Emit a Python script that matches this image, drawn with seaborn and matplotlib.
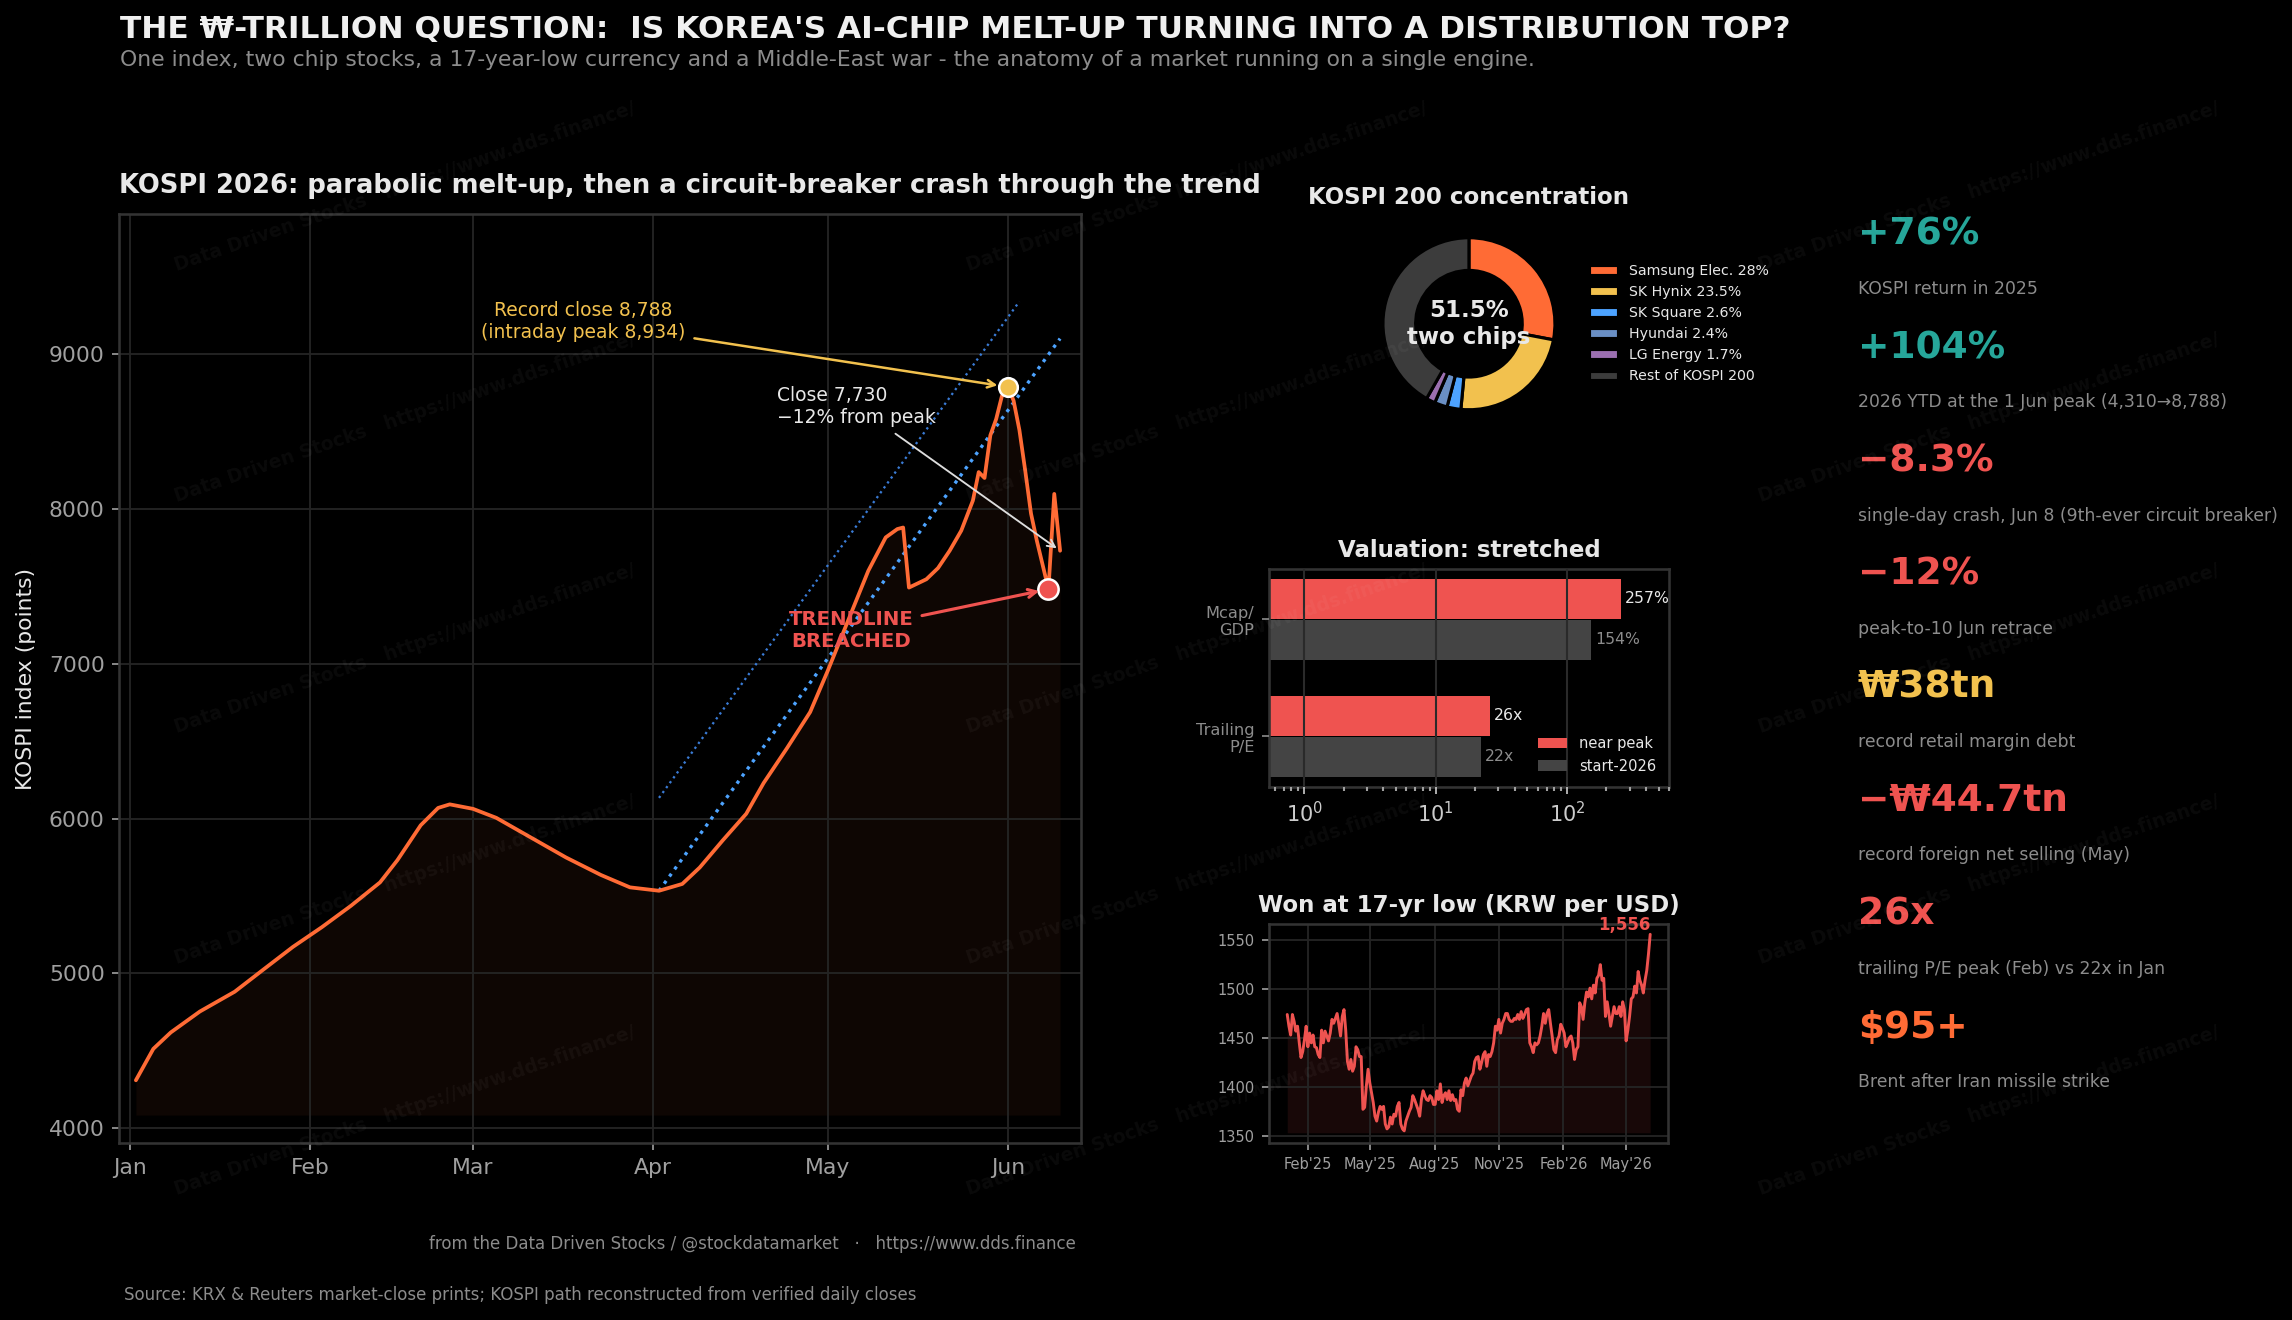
import numpy as np
import pandas as pd
import seaborn as sns
import matplotlib.pyplot as plt
import matplotlib.dates as mdates

sns.set_theme(style="dark", rc={"figure.facecolor": "black", "axes.facecolor": "black",
                                "savefig.facecolor": "black", "axes.edgecolor": "#333333",
                                "axes.axisbelow": "line"})
plt.rcParams["font.family"] = ["DejaVu Sans"]

BG = "#000000"
ORANGE = "#ff6b35"
GOLD = "#f2c14e"
RED = "#ef5350"
TEAL = "#26a69a"
BLUE = "#4da3ff"
LIGHT = "#e8e8e8"
GRAY = "#8c8c8c"
TICK = "#a0a0a0"
GRID = "#242424"
SPINE = "#333333"
DARK = "#444444"

# ---- data: KOSPI 2026 daily closes
kospi_dates = ["2026-01-02", "2026-01-05", "2026-01-08", "2026-01-13", "2026-01-19", "2026-01-24",
               "2026-01-29", "2026-02-03", "2026-02-08", "2026-02-13", "2026-02-16", "2026-02-20",
               "2026-02-23", "2026-02-25", "2026-03-01", "2026-03-05", "2026-03-11", "2026-03-17",
               "2026-03-23", "2026-03-28", "2026-04-02", "2026-04-06", "2026-04-09", "2026-04-13",
               "2026-04-17", "2026-04-20", "2026-04-24", "2026-04-28", "2026-05-01", "2026-05-04",
               "2026-05-08", "2026-05-11", "2026-05-13", "2026-05-14", "2026-05-15", "2026-05-18",
               "2026-05-20", "2026-05-22", "2026-05-24", "2026-05-26", "2026-05-27", "2026-05-28",
               "2026-05-29", "2026-05-30", "2026-05-31", "2026-06-01", "2026-06-02", "2026-06-03",
               "2026-06-04", "2026-06-05", "2026-06-06", "2026-06-08", "2026-06-09", "2026-06-10"]
kospi_close = [4310, 4513, 4619, 4754, 4882, 5027, 5171, 5299, 5437, 5588, 5732, 5957,
               6069, 6092, 6063, 6005, 5877, 5749, 5636, 5556, 5534, 5578, 5684, 5861,
               6031, 6230, 6454, 6688, 6952, 7230, 7600, 7816, 7870, 7880, 7492, 7546,
               7618, 7730, 7860, 8054, 8238, 8200, 8475, 8580, 8730, 8788, 8700, 8510,
               8248, 7970, 7795, 7482, 8097, 7730]
kospi_fill_floor = 4085
peak_date, peak_close = "2026-06-01", 8788
breach_date, breach_close = "2026-06-08", 7482

# trendline from the April low and the parallel upper channel
trend_dates = ["2026-04-02", "2026-06-10"]
trend_lower = [5534, 9100]
channel_dates = ["2026-04-02", "2026-06-03"]
channel_upper = [6134, 9340]

# ---- donut
holding_labels = ["Samsung Elec. 28%", "SK Hynix 23.5%", "SK Square 2.6%", "Hyundai 2.4%",
                  "LG Energy 1.7%", "Rest of KOSPI 200"]
holding_share = [28, 23.5, 2.6, 2.4, 1.7, 41.8]
holding_colors = [ORANGE, GOLD, BLUE, "#6a8fc4", "#9b6fb0", "#3c3c3c"]

# ---- valuation
val_metric = ["Mcap/\nGDP", "Mcap/\nGDP", "Trailing\nP/E", "Trailing\nP/E"]
val_period = ["near peak", "start-2026", "near peak", "start-2026"]
val_value = [257, 154, 26, 22]
val_text_peak = ["257%", "26x"]
val_text_start = ["154%", "22x"]

# ---- KRW per USD
won_start, won_end = "2025-01-02", "2026-06-05"
won_rate = [1474, 1462, 1453, 1474, 1467, 1457, 1462, 1445, 1430, 1436, 1448, 1462, 1441, 1455,
            1445, 1453, 1441, 1440, 1433, 1430, 1458, 1445, 1457, 1452, 1447, 1455, 1469, 1465,
            1470, 1475, 1464, 1452, 1472, 1479, 1458, 1426, 1418, 1428, 1416, 1421, 1441, 1438,
            1431, 1431, 1377, 1379, 1401, 1418, 1404, 1394, 1384, 1370, 1365, 1374, 1380, 1377,
            1380, 1362, 1357, 1359, 1369, 1362, 1372, 1370, 1380, 1384, 1362, 1357, 1355, 1365,
            1370, 1375, 1379, 1391, 1387, 1382, 1377, 1370, 1387, 1396, 1391, 1387, 1386, 1391,
            1389, 1382, 1382, 1396, 1387, 1403, 1384, 1391, 1394, 1387, 1396, 1386, 1392, 1386,
            1387, 1377, 1375, 1397, 1391, 1404, 1409, 1401, 1406, 1411, 1414, 1426, 1430, 1431,
            1418, 1425, 1433, 1436, 1421, 1433, 1431, 1436, 1445, 1462, 1458, 1469, 1455, 1465,
            1469, 1475, 1475, 1469, 1467, 1467, 1470, 1469, 1474, 1469, 1477, 1470, 1474, 1479,
            1480, 1445, 1441, 1435, 1445, 1443, 1445, 1452, 1462, 1475, 1465, 1475, 1479, 1465,
            1452, 1438, 1435, 1448, 1452, 1464, 1460, 1455, 1441, 1445, 1450, 1452, 1445, 1428,
            1438, 1441, 1486, 1482, 1469, 1486, 1497, 1492, 1501, 1490, 1504, 1496, 1511, 1514,
            1525, 1509, 1511, 1472, 1487, 1475, 1462, 1472, 1482, 1475, 1475, 1482, 1472, 1487,
            1479, 1447, 1458, 1472, 1490, 1492, 1503, 1496, 1518, 1509, 1504, 1496, 1509, 1519,
            1536, 1556]
won_fill_floor = 1353

# ---- key stats column
stat_values = ["+76%", "+104%", "\u22128.3%", "\u221212%", "\u20a938tn", "\u2212\u20a944.7tn", "26x", "$95+"]
stat_colors = [TEAL, TEAL, RED, RED, GOLD, RED, RED, ORANGE]
stat_labels = ["KOSPI return in 2025",
               "2026 YTD at the 1 Jun peak (4,310\u21928,788)",
               "single-day crash, Jun 8 (9th-ever circuit breaker)",
               "peak-to-10 Jun retrace",
               "record retail margin debt",
               "record foreign net selling (May)",
               "trailing P/E peak (Feb) vs 22x in Jan",
               "Brent after Iran missile strike"]


def style_axes(a, labelsize):
    a.set_facecolor(BG)
    for s in a.spines.values():
        s.set_color(SPINE)
        s.set_visible(True)
    a.tick_params(colors=TICK, labelsize=labelsize, length=3.5, width=0.8, left=True, bottom=True)
    a.set_xlabel("")
    a.set_ylabel("")


fig = plt.figure(figsize=(15.28, 8.8), dpi=150)

# ================= main KOSPI chart
ax = fig.add_axes([0.0521, 0.1341, 0.4195, 0.7038])
kospi = pd.DataFrame({"date": pd.to_datetime(kospi_dates), "close": kospi_close})
sns.lineplot(data=kospi, x="date", y="close", ax=ax, color=ORANGE, lw=1.8, zorder=4)
ax.fill_between(kospi["date"], kospi["close"], kospi_fill_floor, color=ORANGE, alpha=0.06, lw=0, zorder=1)
ax.plot(pd.to_datetime(channel_dates), channel_upper, ls=":", color="#3a7bd5", lw=1.1, zorder=3)
ax.plot(pd.to_datetime(trend_dates), trend_lower, ls=":", color=BLUE, lw=1.6, zorder=3)
ax.scatter([pd.Timestamp(peak_date)], [peak_close], s=80, color=GOLD, edgecolor="white", lw=1.2, zorder=6)
ax.scatter([pd.Timestamp(breach_date)], [breach_close], s=95, color=RED, edgecolor="white", lw=1.2, zorder=6)

ax.annotate("Record close 8,788\n(intraday peak 8,934)", xy=(pd.Timestamp(peak_date), peak_close),
            xytext=(pd.Timestamp("2026-03-20"), 9213), ha="center", va="center", color=GOLD, fontsize=9,
            arrowprops=dict(arrowstyle="->", color=GOLD, lw=1.2, shrinkB=5), zorder=7)
ax.annotate("Close 7,730\n\u221212% from peak", xy=(kospi["date"].iloc[-1], kospi["close"].iloc[-1]),
            xytext=(pd.Timestamp("2026-04-22 08:00"), 8664), ha="left", va="center", color=LIGHT, fontsize=9,
            arrowprops=dict(arrowstyle="->", color="#dddddd", lw=0.9), zorder=7)
ax.annotate("TRENDLINE\nBREACHED", xy=(pd.Timestamp(breach_date), breach_close),
            xytext=(pd.Timestamp("2026-05-05"), 7215), ha="center", va="center", color=RED, fontsize=9.5,
            fontweight="bold", arrowprops=dict(arrowstyle="->", color=RED, lw=1.5, shrinkB=4.5), zorder=7)

ax.set_xlim(pd.Timestamp("2025-12-30 04:00"), pd.Timestamp("2026-06-13 14:00"))
ax.set_ylim(3905, 9905)
ax.set_yticks([4000, 5000, 6000, 7000, 8000, 9000])
ax.xaxis.set_major_locator(mdates.MonthLocator())
ax.xaxis.set_major_formatter(mdates.DateFormatter("%b"))
style_axes(ax, 10.5)
ax.grid(True, color=GRID, lw=0.9)
ax.set_ylabel("KOSPI index (points)", color=LIGHT, fontsize=10.5, labelpad=6)
ax.set_title("KOSPI 2026: parabolic melt-up, then a circuit-breaker crash through the trend",
             loc="left", fontsize=12.4, fontweight="bold", color=LIGHT, pad=10)

# ================= donut
axd = fig.add_axes([0.594, 0.6733, 0.0938, 0.1629])
wedges, _ = axd.pie(holding_share, colors=holding_colors, startangle=90, counterclock=False,
                    wedgeprops=dict(width=0.38, edgecolor=BG, linewidth=1.5))
axd.text(0, 0, "51.5%\ntwo chips", ha="center", va="center", fontsize=11, fontweight="bold", color=LIGHT)
axd.set_title("KOSPI 200 concentration", fontsize=11, fontweight="bold", color=LIGHT)
axd.legend(wedges, holding_labels, loc="center left", bbox_to_anchor=(1.0, 0.5), fontsize=6.8,
           frameon=False, labelcolor=LIGHT)

# ================= valuation bars
axv = fig.add_axes([0.5537, 0.404, 0.1745, 0.1649])
val = pd.DataFrame({"metric": val_metric, "period": val_period, "value": val_value})
sns.barplot(data=val, y="metric", x="value", hue="period", palette=[RED, DARK], orient="h",
            width=0.7, gap=0.04, saturation=1, linewidth=0, ax=axv)
axv.set_xscale("log")
axv.set_xlim(0.54, 600)
axv.set_ylim(1.43, -0.43)
axv.bar_label(axv.containers[0], labels=val_text_peak, padding=2, color=LIGHT, fontsize=7.5)
axv.bar_label(axv.containers[1], labels=val_text_start, padding=2, color=GRAY, fontsize=7.5)
style_axes(axv, 10)
axv.tick_params(axis="y", labelsize=7.8, colors=GRAY)
axv.tick_params(axis="x", colors="#cccccc")
axv.tick_params(axis="x", which="minor", colors=TICK, length=2, bottom=True)
axv.set_axisbelow(False)
axv.grid(True, axis="x", which="major", color="#2a2a2a", lw=1)
axv.legend(loc="lower right", fontsize=7, frameon=False, labelcolor=LIGHT)
axv.set_title("Valuation: stretched", fontsize=11, fontweight="bold", color=LIGHT)

# ================= won
axw = fig.add_axes([0.5537, 0.1343, 0.1742, 0.1654])
won = pd.DataFrame({"date": pd.date_range(won_start, won_end, periods=len(won_rate)), "rate": won_rate})
sns.lineplot(data=won, x="date", y="rate", ax=axw, color=RED, lw=1.4, zorder=4)
axw.fill_between(won["date"], won["rate"], won_fill_floor, color=RED, alpha=0.1, lw=0, zorder=1)
axw.text(won["date"].iloc[-1], won["rate"].iloc[-1], "1,556", ha="right", va="bottom", color=RED,
         fontsize=8, fontweight="bold")
axw.xaxis.set_major_locator(mdates.MonthLocator(bymonth=[2, 5, 8, 11]))
axw.xaxis.set_major_formatter(mdates.DateFormatter("%b'%y"))
axw.set_yticks([1350, 1400, 1450, 1500, 1550])
style_axes(axw, 7)
axw.grid(True, color=GRID, lw=0.9)
axw.set_title("Won at 17-yr low (KRW per USD)", fontsize=11, fontweight="bold", color=LIGHT)

# ================= key stats
for i, (v, c, lab) in enumerate(zip(stat_values, stat_colors, stat_labels)):
    fig.text(0.8106, 0.822 - i * 0.0858, v, color=c, fontsize=18, fontweight="bold", va="center")
    fig.text(0.8106, 0.781 - i * 0.0858, lab, color=GRAY, fontsize=8.3, va="center")

# ================= headers / footers
fig.text(0.0524, 0.978, "THE \u20a9-TRILLION QUESTION:  IS KOREA'S AI-CHIP MELT-UP TURNING INTO A DISTRIBUTION TOP?",
         fontsize=15, fontweight="bold", color="#f0f0f0", va="center")
fig.text(0.0524, 0.9546, "One index, two chip stocks, a 17-year-low currency and a Middle-East war - "
         "the anatomy of a market running on a single engine.", fontsize=10.5, color=GRAY, va="center")
fig.text(0.4695, 0.0576, "from the Data Driven Stocks / @stockdatamarket   \u00b7   https://www.dds.finance",
         ha="right", va="center", fontsize=8, color=GRAY)
fig.text(0.054, 0.019, "Source: KRX & Reuters market-close prints; KOSPI path reconstructed from verified daily closes",
         ha="left", va="center", fontsize=8, color=GRAY)

# watermark tiles
for wy in [271, 502, 733, 964, 1195]:
    for wx in [177, 969, 1761]:
        fig.text(wx / 2292, 1 - wy / 1320, "Data Driven Stocks   https://www.dds.finance/", rotation=19,
                 rotation_mode="anchor", ha="left", va="baseline", fontsize=9, fontweight="bold",
                 color="white", alpha=0.045, zorder=10)

fig.savefig("out.png", dpi=150, facecolor=BG)
